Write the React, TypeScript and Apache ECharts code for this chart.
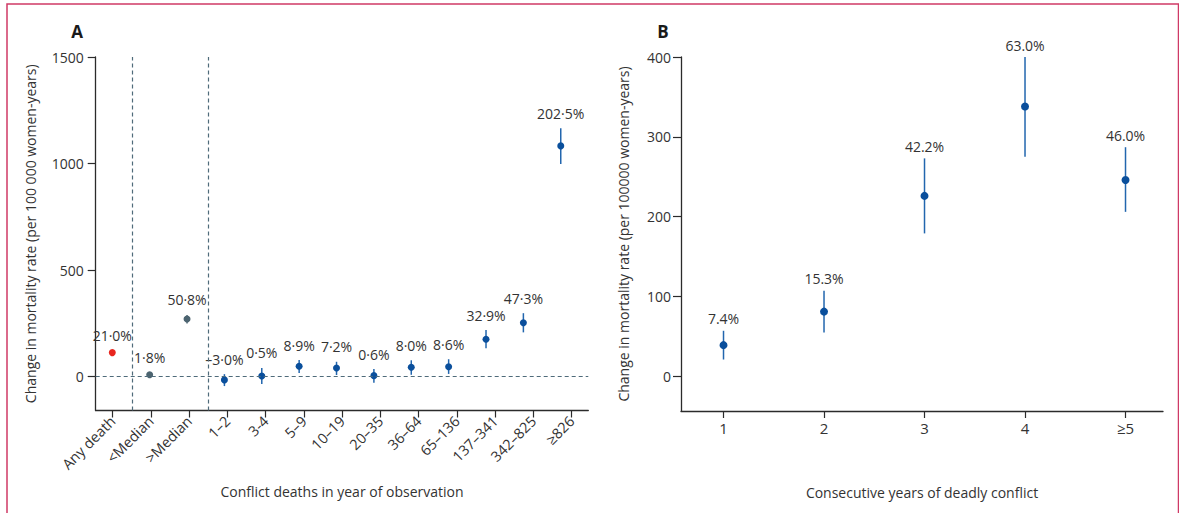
import React, { useEffect, useRef } from "react";
import * as echarts from "echarts";

// ---------- Panel A data ----------
const categoriesA = [
  "Any death", "<Median", ">Median", "1–2", "3-4", "5–9", "10–19",
  "20–35", "36–64", "65–136", "137–341", "342–825", "≥826",
];
const kindA = ["any", "split", "split", "band", "band", "band", "band", "band", "band", "band", "band", "band", "band"];
const valuesA = [113, 9, 271, -15, 3, 49, 41, 5, 44, 47, 176, 253, 1083];
const lowA = [104, 0, 250, -44, -34, 17, 8, -28, 9, 13, 133, 208, 998];
const highA = [122, 18, 290, 12, 41, 78, 70, 36, 77, 82, 219, 298, 1166];
const labelsA = [
  "21·0%", "1·8%", "50·8%", "–3·0%", "0·5%", "8·9%", "7·2%",
  "0·6%", "8·0%", "8·6%", "32·9%", "47·3%", "202·5%",
];
const yTicksA = [0, 500, 1000, 1500];

// ---------- Panel B data ----------
const categoriesB = ["1", "2", "3", "4", "≥5"];
const valuesB = [39, 81, 226, 338, 246];
const lowB = [21, 55, 179, 275, 206];
const highB = [57, 107, 273, 400, 287];
const labelsB = ["7.4%", "15.3%", "42.2%", "63.0%", "46.0%"];
const yTicksB = [0, 100, 200, 300, 400];

const FONT = '"Open Sans", sans-serif';
const TEXT = "#333333";
const AXIS = "#2b2b2b";

const dotColors: Record<string, string> = { any: "#e8261f", split: "#4c6470", band: "#0a4f9c" };
const barColors: Record<string, string> = { any: "#e8261f", split: "#5a707c", band: "#2266ae" };

export default function App() {
  const ref = useRef<HTMLDivElement>(null);

  useEffect(() => {
    if (!ref.current) return;
    const chart = echarts.init(ref.current, undefined, { renderer: "svg" });

    const idxA = categoriesA.map((_, i) => i);
    const idxB = categoriesB.map((_, i) => i);
    const dataA = valuesA.map((v, i) => [i, v, lowA[i], highA[i]]);
    const dataB = valuesB.map((v, i) => [i, v, lowB[i], highB[i]]);

    const makeRender = (labels: string[], kinds: string[] | null, r: number, gap: number) =>
      (params: any, api: any) => {
        const x = api.value(0);
        const p = api.coord([x, api.value(1)]);
        const pl = api.coord([x, api.value(2)]);
        const ph = api.coord([x, api.value(3)]);
        const k = kinds ? kinds[params.dataIndex] : "band";
        return {
          type: "group",
          children: [
            {
              type: "line",
              shape: { x1: p[0], y1: pl[1], x2: p[0], y2: ph[1] },
              style: { stroke: barColors[k], lineWidth: 1.5 },
            },
            {
              type: "circle",
              shape: { cx: p[0], cy: p[1], r },
              style: { fill: dotColors[k] },
            },
            {
              type: "text",
              style: {
                text: labels[params.dataIndex],
                x: p[0],
                y: ph[1] - gap,
                fill: TEXT,
                font: `14px ${FONT}`,
                align: "center",
                verticalAlign: "bottom",
              },
            },
          ],
        };
      };

    const axisLine = { show: true, onZero: false, lineStyle: { color: AXIS, width: 1.3 } };
    const plain = (v: number) => String(v);

    const option: any = {
      animation: false,
      textStyle: { fontFamily: FONT },
      grid: [
        { left: 95.7, top: 57, width: 492.6, height: 353.5 },
        { left: 681, top: 57, width: 482, height: 354 },
      ],
      xAxis: [
        {
          gridIndex: 0,
          type: "value",
          min: -0.444,
          max: 12.434,
          axisLine,
          axisTick: { show: true, customValues: idxA, length: 7, lineStyle: { color: AXIS, width: 1.2 } },
          axisLabel: {
            customValues: idxA,
            formatter: (v: number) => categoriesA[Math.round(v)] ?? "",
            rotate: 45,
            margin: 8,
            fontSize: 14.5,
            color: TEXT,
            fontFamily: FONT,
          },
          splitLine: { show: false },
          name: "Conflict deaths in year of observation",
          nameLocation: "middle",
          nameGap: 74,
          nameTextStyle: { fontSize: 14, color: TEXT, fontFamily: FONT },
        },
        {
          gridIndex: 0,
          type: "value",
          min: -0.444,
          max: 12.737,
          show: false,
        },
        {
          gridIndex: 1,
          type: "value",
          min: -0.423,
          max: 4.373,
          axisLine,
          axisTick: { show: true, customValues: idxB, length: 7, lineStyle: { color: AXIS, width: 1.2 } },
          axisLabel: {
            customValues: idxB,
            formatter: (v: number) => categoriesB[Math.round(v)] ?? "",
            margin: 9,
            fontSize: 15,
            color: TEXT,
            fontFamily: FONT,
          },
          splitLine: { show: false },
          name: "Consecutive years of deadly conflict",
          nameLocation: "middle",
          nameGap: 74,
          nameTextStyle: { fontSize: 14, color: TEXT, fontFamily: FONT },
        },
      ],
      yAxis: [
        {
          gridIndex: 0,
          type: "value",
          min: -158.6,
          max: 1500,
          axisLine,
          axisTick: { show: true, customValues: yTicksA, length: 8, lineStyle: { color: AXIS, width: 1.2 } },
          axisLabel: { customValues: yTicksA, formatter: plain, margin: 12, fontSize: 14, color: TEXT, fontFamily: FONT },
          splitLine: { show: false },
          name: "Change in mortality rate (per 100 000 women-years)",
          nameLocation: "middle",
          nameRotate: 90,
          nameGap: 58,
          nameTextStyle: { fontSize: 14, color: TEXT, fontFamily: FONT },
        },
        {
          gridIndex: 1,
          type: "value",
          min: -43.5,
          max: 400,
          axisLine,
          axisTick: { show: true, customValues: yTicksB, length: 8, lineStyle: { color: AXIS, width: 1.2 } },
          axisLabel: { customValues: yTicksB, formatter: plain, margin: 10, fontSize: 14, color: TEXT, fontFamily: FONT },
          splitLine: { show: false },
          name: "Change in mortality rate (per 100000 women-years)",
          nameLocation: "middle",
          nameRotate: 90,
          nameGap: 51,
          nameTextStyle: { fontSize: 14, color: TEXT, fontFamily: FONT },
        },
      ],
      series: [
        {
          type: "line",
          xAxisIndex: 0,
          yAxisIndex: 0,
          data: [],
          silent: true,
          markLine: {
            silent: true,
            symbol: "none",
            label: { show: false },
            lineStyle: { type: [4, 3], color: "#4f6b7a", width: 1.2 },
            data: [{ xAxis: 0.5 }, { xAxis: 2.5 }, { yAxis: 0 }],
          },
        },
        {
          type: "custom",
          xAxisIndex: 1,
          yAxisIndex: 0,
          data: dataA,
          encode: { x: 0, y: 1 },
          renderItem: makeRender(labelsA, kindA, 3.5, 8),
          clip: false,
        },
        {
          type: "custom",
          xAxisIndex: 2,
          yAxisIndex: 1,
          data: dataB,
          encode: { x: 0, y: 1 },
          renderItem: makeRender(labelsB, null, 4, 5),
          clip: false,
        },
      ],
      graphic: [
        {
          type: "rect",
          shape: { x: 7, y: 4, width: 1171.5, height: 530 },
          style: { fill: "none", stroke: "#cf3a66", lineWidth: 1.5 },
          silent: true,
        },
        {
          type: "text",
          style: {
            text: "A",
            x: 77,
            y: 31,
            fill: "#1a1a1a",
            font: `bold 17px ${FONT}`,
            align: "center",
            verticalAlign: "middle",
          },
        },
        {
          type: "text",
          style: {
            text: "B",
            x: 663,
            y: 31,
            fill: "#1a1a1a",
            font: `bold 17px ${FONT}`,
            align: "center",
            verticalAlign: "middle",
          },
        },
      ],
    };

    chart.setOption(option);
    return () => chart.dispose();
  }, []);

  return (
    <div
      ref={ref}
      style={{ position: "fixed", left: 0, top: 0, width: 1179, height: 513, background: "#fff" }}
    />
  );
}
